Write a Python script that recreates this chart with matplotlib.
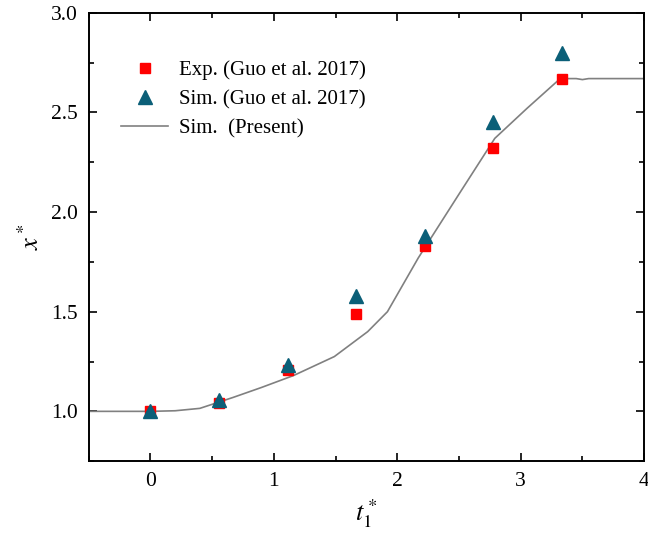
import numpy as np
import matplotlib.pyplot as plt
from matplotlib.ticker import MultipleLocator

plt.rcParams['font.family'] = ['Liberation Serif', 'DejaVu Serif']
plt.rcParams['mathtext.fontset'] = 'stix'

# datos
t_pts = [0, 0.556, 1.111, 1.667, 2.222, 2.778, 3.333]
x_exp = [1.0, 1.04, 1.21, 1.49, 1.83, 2.32, 2.67]
x_sim = [1.0, 1.055, 1.235, 1.58, 1.88, 2.45, 2.80]

t_line = [-0.5, 0.0, 0.2, 0.4, 0.67, 0.9, 1.16, 1.49, 1.76, 1.92, 2.17, 2.51, 2.79, 3.05, 3.32, 3.45, 3.5, 3.55, 4.0]
x_line = [1.0, 1.0, 1.003, 1.015, 1.07, 1.12, 1.18, 1.275, 1.40, 1.50, 1.77, 2.10, 2.37, 2.52, 2.67, 2.67, 2.665, 2.67, 2.67]

fig = plt.figure(figsize=(6.48, 5.35), dpi=100)
ax = fig.add_axes([0.137, 0.138, 0.857, 0.838])

ax.plot(t_line, x_line, color='#808080', lw=1.2, label='Sim.  (Present)')
ax.plot(t_pts, x_exp, 's', color='#ff0000', ms=6.5, label='Exp. (Guo et al. 2017)')
ax.plot(t_pts, x_sim, '^', color='#0b5f78', ms=9.5, label='Sim. (Guo et al. 2017)')

ax.set_xlim(-0.5, 4)
ax.set_ylim(0.75, 3.0)
ax.xaxis.set_major_locator(MultipleLocator(1))
ax.xaxis.set_minor_locator(MultipleLocator(0.5))
ax.yaxis.set_major_locator(MultipleLocator(0.5))
ax.yaxis.set_minor_locator(MultipleLocator(0.25))
ax.set_yticks([1.0, 1.5, 2.0, 2.5, 3.0])
ax.set_yticklabels(['1.0', '1.5', '2.0', '2.5', '3.0'])
ax.tick_params(which='both', direction='in', top=True, right=True, labelsize=15.5, width=1.2)
ax.tick_params(which='major', length=6, pad=8)
ax.tick_params(which='minor', length=3.5)
for s in ax.spines.values():
    s.set_linewidth(1.4)

ax.set_xlabel(r'$t_1^*$', fontsize=19, labelpad=4)
ax.set_ylabel(r'$x^*$', fontsize=19, labelpad=5)

h, l = ax.get_legend_handles_labels()
ax.legend([h[1], h[2], h[0]], [l[1], l[2], l[0]], loc='upper left', frameon=False,
          fontsize=15, bbox_to_anchor=(0.025, 0.935), handlelength=2.25,
          handletextpad=0.5, labelspacing=0.45)

plt.savefig('out.png')
